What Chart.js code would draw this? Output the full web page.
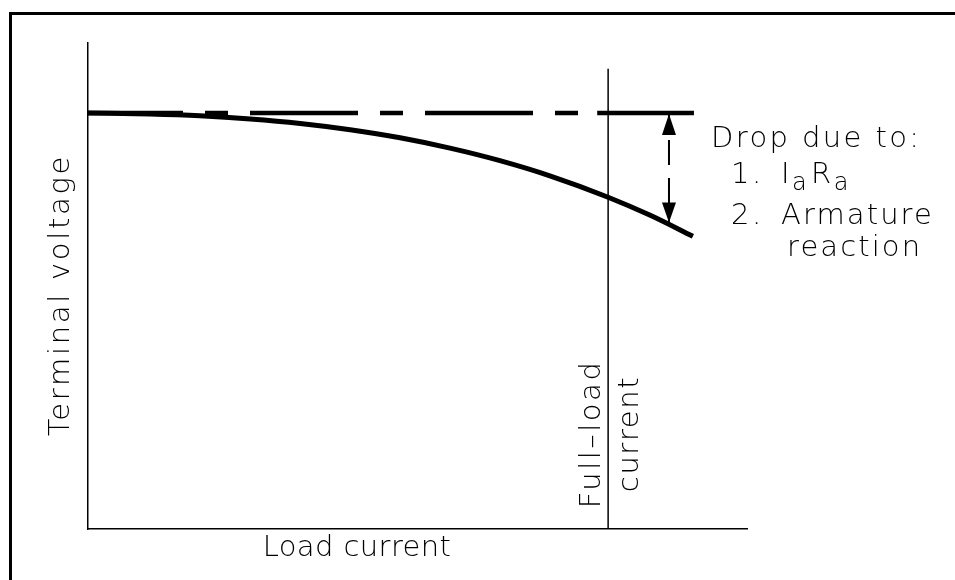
<!DOCTYPE html>
<html>
<head>
<meta charset="utf-8">
<script src="https://cdn.jsdelivr.net/npm/chart.js@4.4.0/dist/chart.umd.min.js"></script>
<style>
  html, body { margin: 0; padding: 0; background: #fff; overflow: hidden; }
  #myChart { display: block; }
</style>
</head>
<body>
<canvas id="myChart" width="955" height="580"></canvas>
<script>
// load current, in % of full load
const loadCurrent = [0, 11.9, 21.5, 31.2, 40.8, 50.4, 60, 69.6, 79.2, 88.8, 100, 108.1, 116.3];
// terminal voltage, in % of no-load voltage
const terminalVoltage = [100, 99.73, 99.3, 98.54, 97.46, 95.96, 94.02, 91.54, 88.53, 84.88, 79.74, 75.38, 70.33];

const noLoadVoltage = 100;
const dashedEnd = 97.9;     // where the dashed reference turns solid
const solidEnd = 116.5;
const fullLoad = 100;
const fullLoadTop = 110.6;
const dropAt = 111.7;       // x of the "drop" arrow
const dropBottom = 73.4;
const xMax = 126.7;
const yMax = 116.8;

const FONT = '"DejaVu Sans", "Liberation Sans", sans-serif';

function pts(xs, ys) {
    return xs.map((x, i) => ({ x: x, y: ys[i] }));
}

// drawing frame (top + left edge only)
const framePlugin = {
    id: 'frame',
    beforeDraw(chart) {
        const c = chart.ctx;
        c.save();
        c.strokeStyle = '#000';
        c.lineWidth = 3;
        c.beginPath();
        c.moveTo(chart.width + 5, 13.5);
        c.lineTo(10.5, 13.5);
        c.lineTo(10.5, chart.height + 5);
        c.stroke();
        c.restore();
    }
};

// arrow heads + all the text of the drawing
const drawingPlugin = {
    id: 'drawing',
    afterDatasetsDraw(chart) {
        const c = chart.ctx;
        const xs = chart.scales.x, ys = chart.scales.y;
        const area = chart.chartArea;

        // arrow heads
        const ax = xs.getPixelForValue(dropAt);
        const yTop = ys.getPixelForValue(noLoadVoltage);
        const yBot = ys.getPixelForValue(dropBottom);
        c.save();
        c.fillStyle = '#000';
        c.beginPath();
        c.moveTo(ax, yTop + 1);
        c.lineTo(ax - 7, yTop + 22);
        c.lineTo(ax + 7, yTop + 22);
        c.closePath();
        c.fill();
        c.beginPath();
        c.moveTo(ax, yBot - 1);
        c.lineTo(ax - 7, yBot - 21);
        c.lineTo(ax + 7, yBot - 21);
        c.closePath();
        c.fill();
        c.restore();

        // text
        c.save();
        c.fillStyle = '#000';
        c.textBaseline = 'alphabetic';
        const big = '300 29px ' + FONT, small = '300 24px ' + FONT;
        c.font = big;

        function put(txt, x, y, spacing, align) {
            c.letterSpacing = spacing + 'px';
            c.textAlign = align || 'left';
            c.fillText(txt, x, y);
        }
        function putRot(txt, x, y, spacing) {
            c.save();
            c.translate(x, y);
            c.rotate(-Math.PI / 2);
            c.letterSpacing = spacing + 'px';
            c.textAlign = 'center';
            c.fillText(txt, 0, 0);
            c.restore();
        }

        // axis titles
        put('Load current', 357, area.bottom + 27, 0.4, 'center');
        putRot('Terminal voltage', area.left - 19, 295, 2.7);

        // full-load marker
        const fx = xs.getPixelForValue(fullLoad);
        putRot('Full\u2013load', fx - 8, 434, 2.5);
        putRot('current', fx + 30, 434, 1.6);

        // drop explanation
        const tx = area.right - 36;
        put('Drop due to:', tx, 147, 2.4);
        put('1.', tx + 20, 183, 2.5);
        put('I', tx + 70, 183, 2.5);
        let w = c.measureText('I').width;
        c.font = small;
        put('a', tx + 70 + w, 190, 2);
        c.font = big;
        put('R', tx + 100, 183, 2.5);
        w = c.measureText('R').width;
        c.font = small;
        put('a', tx + 100 + w, 190, 2);
        c.font = big;
        put('2.', tx + 20, 224, 2.5);
        put('Armature', tx + 70, 224, 2.1);
        put('reaction', tx + 76, 256, 2.1);
        c.restore();
    }
};

const ctx = document.getElementById('myChart').getContext('2d');
const myChart = new Chart(ctx, {
    type: 'line',
    data: {
        datasets: [
            {
                label: 'Terminal voltage',
                data: pts(loadCurrent, terminalVoltage),
                borderColor: '#000',
                borderWidth: 5,
                cubicInterpolationMode: 'monotone',
                pointRadius: 0,
                clip: false
            },
            {
                label: 'No-load voltage (dashed)',
                data: [{ x: 0, y: noLoadVoltage }, { x: dashedEnd, y: noLoadVoltage }],
                borderColor: '#000',
                borderWidth: 4.5,
                borderDash: [108, 22, 23, 22],
                borderDashOffset: 13,
                borderCapStyle: 'butt',
                pointRadius: 0,
                clip: false
            },
            {
                label: 'No-load voltage',
                data: [{ x: dashedEnd, y: noLoadVoltage }, { x: solidEnd, y: noLoadVoltage }],
                borderColor: '#000',
                borderWidth: 4.5,
                pointRadius: 0,
                clip: false
            },
            {
                label: 'Full-load current',
                data: [{ x: fullLoad, y: 0 }, { x: fullLoad, y: fullLoadTop }],
                borderColor: '#000',
                borderWidth: 1.5,
                pointRadius: 0,
                clip: false
            },
            {
                label: 'Drop',
                data: [{ x: dropAt, y: noLoadVoltage }, { x: dropAt, y: dropBottom }],
                borderColor: '#000',
                borderWidth: 2,
                borderDash: [25, 13],
                borderDashOffset: 11,
                borderCapStyle: 'butt',
                pointRadius: 0,
                clip: false
            }
        ]
    },
    options: {
        responsive: false,
        animation: false,
        layout: { padding: { left: 88, top: 43, right: 208, bottom: 51 } },
        plugins: {
            legend: { display: false },
            tooltip: { enabled: false }
        },
        scales: {
            x: {
                type: 'linear',
                min: 0,
                max: xMax,
                grid: { display: false, drawTicks: false },
                ticks: { display: false },
                border: { display: true, color: '#000', width: 1.5 }
            },
            y: {
                type: 'linear',
                min: 0,
                max: yMax,
                grid: { display: false, drawTicks: false },
                ticks: { display: false },
                border: { display: true, color: '#000', width: 1.5 }
            }
        }
    },
    plugins: [framePlugin, drawingPlugin]
});
</script>
</body>
</html>
